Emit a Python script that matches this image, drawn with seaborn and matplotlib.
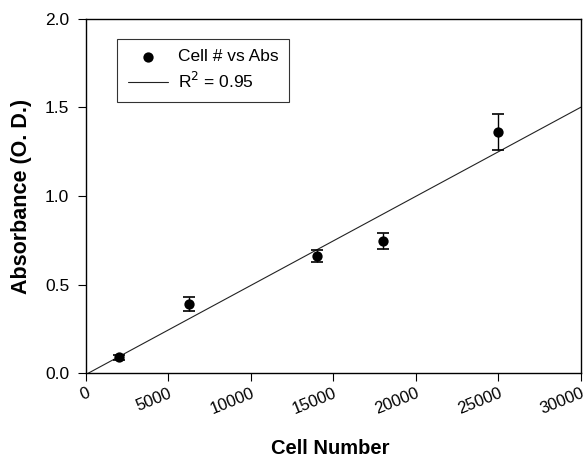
import numpy as np
import pandas as pd
import matplotlib
matplotlib.use("Agg")
import matplotlib.pyplot as plt
import seaborn as sns

# Measured data
cell_number = [2000, 6250, 14000, 18000, 25000]
absorbance = [0.09, 0.39, 0.66, 0.745, 1.36]
abs_err = [0.015, 0.04, 0.035, 0.047, 0.10]
x_ticks = [0, 5000, 10000, 15000, 20000, 25000, 30000]
y_ticks = [0.0, 0.5, 1.0, 1.5, 2.0]

df = pd.DataFrame({"Cell Number": cell_number, "Absorbance": absorbance, "err": abs_err})

sns.set_theme(style="ticks")
plt.rcParams["font.family"] = ["Liberation Sans", "DejaVu Sans"]
plt.rcParams["text.color"] = "black"

fig = plt.figure(figsize=(5.85, 4.59), dpi=100)
ax = fig.add_axes([0.147, 0.187, 0.846, 0.772])

# Least-squares fit line across the full axis range
slope, intercept = np.polyfit(df["Cell Number"], df["Absorbance"], 1)
fit_x = np.array([0, 30000])
fit_df = pd.DataFrame({"x": fit_x, "y": slope * fit_x + intercept})
sns.lineplot(data=fit_df, x="x", y="y", ax=ax, color="#222222", lw=0.8,
             label="R$^2$ = 0.95", legend=False)

ax.errorbar(df["Cell Number"], df["Absorbance"], yerr=df["err"], fmt="none",
            ecolor="black", elinewidth=1.0, capsize=4, capthick=1.2, zorder=3)
sns.scatterplot(data=df, x="Cell Number", y="Absorbance", ax=ax, color="black",
                s=55, edgecolor="black", linewidth=0, zorder=4,
                label="Cell # vs Abs", legend=False)

ax.set_xlim(0, 30000)
ax.set_ylim(0, 2.0)
ax.set_xticks(x_ticks)
ax.set_xticklabels([str(t) for t in x_ticks], rotation=22, ha="right",
                   rotation_mode="anchor")
ax.set_yticks(y_ticks)
ax.set_yticklabels([f"{t:.1f}" for t in y_ticks])
ax.tick_params(axis="both", direction="out", length=6, width=0.8,
               colors="black", labelcolor="black")
ax.tick_params(axis="x", labelsize=12, pad=3)
ax.tick_params(axis="y", labelsize=12.5, pad=6)
for s in ax.spines.values():
    s.set_linewidth(1.0)
    s.set_color("black")

ax.set_xlabel("")
ax.set_ylabel("Absorbance (O. D.)", fontsize=15.5, fontweight="bold", color="black")
ax.yaxis.set_label_coords(-0.11, 0.5)
fig.text(0.564, 0.003, "Cell Number", fontsize=14.5, fontweight="bold",
         ha="center", va="bottom", color="black")

handles, labels = ax.get_legend_handles_labels()
order = [labels.index("Cell # vs Abs"), labels.index("R$^2$ = 0.95")]
leg = ax.legend([handles[i] for i in order], [labels[i] for i in order],
                loc="upper left", bbox_to_anchor=(0.063, 0.944), fontsize=12.5,
                frameon=True, fancybox=False, edgecolor="black",
                handlelength=2.3, handletextpad=0.6, borderpad=0.6,
                labelspacing=0.4, borderaxespad=0)
leg.get_frame().set_linewidth(0.8)
for t in leg.get_texts():
    t.set_color("black")

fig.savefig("out.png", dpi=100)
